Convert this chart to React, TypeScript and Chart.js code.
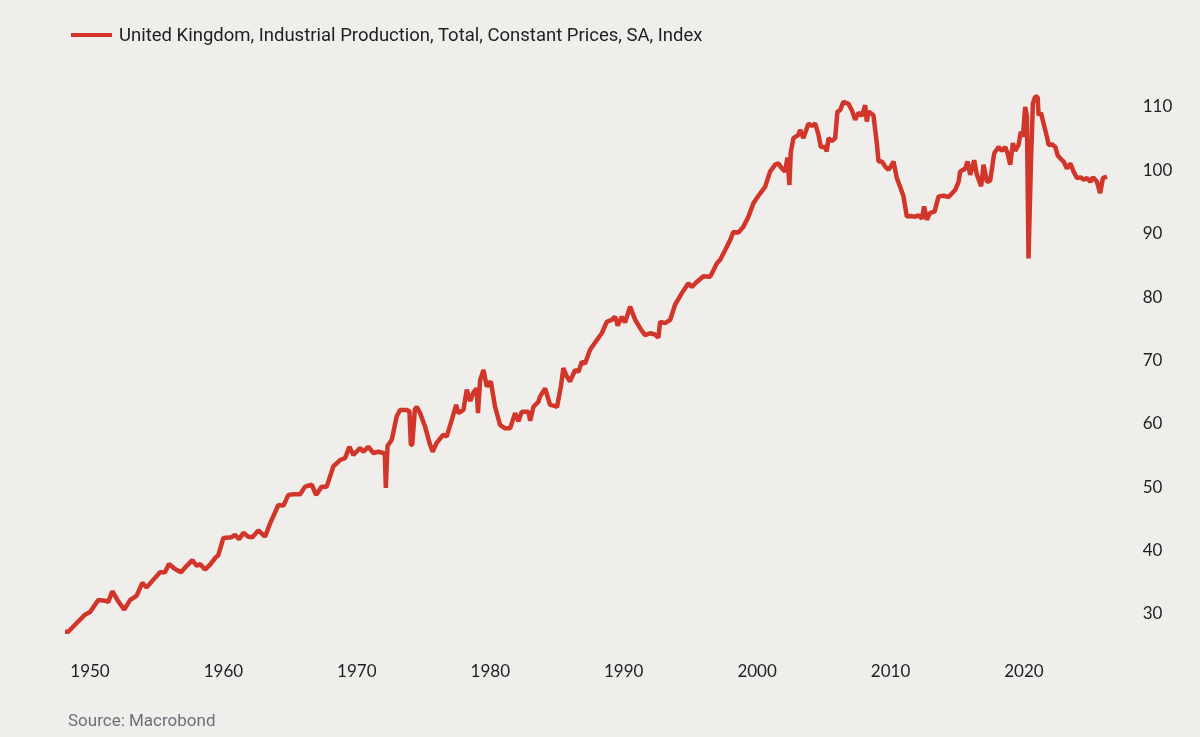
import React, { useEffect, useRef } from "react";
import { Chart, registerables } from "chart.js";

Chart.register(...registerables);

const seriesLabel = "United Kingdom, Industrial Production, Total, Constant Prices, SA, Index";
const sourceText = "Source: Macrobond";

const years = [
  1948.13, 1948.37, 1948.88, 1949.63, 1950.0, 1950.62, 1951.12, 1951.37, 1951.67, 1952.12,
  1952.57, 1953.0, 1953.5, 1953.92, 1954.25, 1954.87, 1955.25, 1955.62, 1955.92, 1956.37,
  1956.82, 1957.25, 1957.67, 1958.0, 1958.25, 1958.62, 1959.0, 1959.37, 1959.62, 1960.0,
  1960.62, 1960.87, 1961.17, 1961.5, 1961.87, 1962.17, 1962.62, 1963.12, 1963.5, 1964.12,
  1964.5, 1964.87, 1965.25, 1965.75, 1966.12, 1966.62, 1966.94, 1967.37, 1967.74, 1968.24,
  1968.74, 1969.12, 1969.44, 1969.74, 1970.24, 1970.49, 1970.86, 1971.24, 1971.61, 1971.99,
  1972.1, 1972.17, 1972.3, 1972.62, 1972.99, 1973.24, 1973.74, 1973.94, 1974.05, 1974.15,
  1974.35, 1974.49, 1974.74, 1975.11, 1975.49, 1975.68, 1975.98, 1976.48, 1976.73, 1977.11,
  1977.44, 1977.61, 1977.99, 1978.24, 1978.5, 1978.75, 1978.98, 1979.08, 1979.24, 1979.49,
  1979.74, 1980.04, 1980.36, 1980.74, 1981.11, 1981.49, 1981.86, 1982.11, 1982.36, 1982.86,
  1982.99, 1983.24, 1983.61, 1983.73, 1984.11, 1984.48, 1984.9, 1985.0, 1985.3, 1985.48,
  1985.73, 1985.98, 1986.36, 1986.61, 1986.86, 1987.1, 1987.48, 1987.98, 1988.36, 1988.73,
  1989.1, 1989.36, 1989.55, 1989.86, 1990.1, 1990.48, 1990.85, 1991.23, 1991.6, 1991.98,
  1992.35, 1992.6, 1992.73, 1993.1, 1993.48, 1993.85, 1994.35, 1994.85, 1995.1, 1995.48,
  1995.98, 1996.48, 1996.98, 1997.23, 1997.6, 1997.98, 1998.22, 1998.6, 1998.97, 1999.35,
  1999.72, 2000.1, 2000.6, 2000.97, 2001.35, 2001.6, 2001.85, 2002.1, 2002.27, 2002.42,
  2002.52, 2002.72, 2003.1, 2003.22, 2003.47, 2003.85, 2004.1, 2004.35, 2004.6, 2004.77,
  2005.1, 2005.22, 2005.35, 2005.6, 2005.85, 2006.02, 2006.22, 2006.47, 2006.85, 2007.1,
  2007.35, 2007.6, 2007.85, 2008.1, 2008.22, 2008.35, 2008.72, 2008.97, 2009.1, 2009.35,
  2009.6, 2009.85, 2010.1, 2010.22, 2010.47, 2010.72, 2010.97, 2011.22, 2011.47, 2011.85,
  2012.1, 2012.35, 2012.52, 2012.72, 2012.97, 2013.3, 2013.6, 2013.97, 2014.35, 2014.84,
  2015.1, 2015.22, 2015.6, 2015.77, 2015.97, 2016.27, 2016.47, 2016.79, 2016.97, 2017.22,
  2017.47, 2017.77, 2018.1, 2018.35, 2018.6, 2018.77, 2018.97, 2019.17, 2019.34, 2019.59,
  2019.77, 2019.92, 2020.09, 2020.22, 2020.34, 2020.52, 2020.67, 2020.84, 2021.02, 2021.1,
  2021.27, 2021.47, 2021.72, 2021.85, 2022.1, 2022.35, 2022.52, 2022.72, 2022.97, 2023.22,
  2023.47, 2023.72, 2023.97, 2024.27, 2024.47, 2024.72, 2024.97, 2025.17, 2025.47, 2025.71,
  2025.92, 2026.22,
];

const values = [
  27.2, 27.2, 28.3, 29.9, 30.3, 32.2, 32.1, 31.9, 33.6, 32.0,
  30.7, 32.2, 32.9, 34.9, 34.2, 35.7, 36.6, 36.6, 37.9, 37.1,
  36.6, 37.6, 38.5, 37.6, 37.9, 37.0, 37.8, 38.8, 39.3, 42.0,
  42.1, 42.5, 41.8, 42.8, 42.2, 42.1, 43.2, 42.2, 44.3, 47.2,
  47.1, 48.8, 48.9, 48.9, 50.1, 50.4, 48.8, 50.1, 50.1, 53.3,
  54.3, 54.6, 56.4, 55.1, 56.2, 55.6, 56.4, 55.4, 55.6, 55.4,
  55.2, 49.9, 56.5, 57.5, 61.2, 62.2, 62.2, 62.0, 56.7, 56.7,
  62.3, 62.7, 61.7, 59.6, 56.7, 55.6, 57.0, 58.3, 58.0, 60.6,
  63.0, 61.7, 62.2, 65.4, 63.6, 65.0, 65.6, 61.7, 66.9, 68.5,
  65.9, 66.7, 62.7, 59.8, 59.3, 59.3, 61.7, 60.4, 61.9, 61.9,
  60.5, 62.7, 63.5, 64.3, 65.6, 63.0, 62.8, 62.6, 66.0, 68.8,
  67.5, 66.7, 68.5, 68.2, 69.8, 69.5, 71.7, 73.2, 74.3, 76.1,
  76.4, 76.9, 75.5, 76.9, 76.0, 78.5, 76.5, 75.1, 74.0, 74.3,
  74.1, 73.6, 76.1, 75.9, 76.4, 78.8, 80.6, 82.2, 81.6, 82.4,
  83.3, 83.2, 85.3, 85.9, 87.4, 89.0, 90.3, 90.2, 91.1, 92.7,
  94.8, 96.0, 97.4, 99.8, 100.9, 101.1, 100.3, 99.8, 102.0, 97.7,
  102.8, 105.1, 105.6, 106.4, 105.1, 107.4, 107.0, 107.4, 105.6, 103.7,
  103.7, 103.0, 105.1, 104.6, 105.1, 109.3, 109.5, 110.8, 110.5, 109.5,
  108.0, 109.1, 108.6, 110.3, 107.7, 109.3, 108.7, 104.3, 101.4, 101.4,
  100.6, 100.1, 100.9, 101.4, 98.8, 97.4, 95.9, 92.7, 92.8, 92.7,
  92.9, 92.4, 94.3, 92.2, 93.3, 93.5, 95.9, 96.0, 95.8, 96.9,
  98.2, 99.8, 100.3, 101.4, 99.3, 101.6, 99.3, 97.5, 100.9, 98.2,
  98.4, 102.7, 103.7, 103.1, 103.7, 102.7, 100.9, 104.3, 103.1, 104.0,
  106.1, 105.3, 110.0, 108.5, 86.1, 101.1, 110.6, 111.6, 111.6, 108.7,
  109.1, 107.4, 105.3, 104.0, 104.1, 103.7, 102.4, 101.9, 101.4, 100.3,
  101.1, 99.8, 98.8, 98.9, 98.5, 98.8, 98.2, 98.9, 98.2, 96.4,
  98.8, 99.0,
];

const xTicks = [1950, 1960, 1970, 1980, 1990, 2000, 2010, 2020];
const yTicks = [30, 40, 50, 60, 70, 80, 90, 100, 110];

const BG = "#f0eeea";
const RED = "#d2352a";
const TEXT = "#1c1f23";
const MUTED = "#6c7079";

const W = 1200;
const H = 737;
const AREA_LEFT = 63.3;
const AREA_TOP = 88;
const AREA_RIGHT = 1110.7;
const AREA_BOTTOM = 645.7;

export default function App() {
  const ref = useRef<HTMLCanvasElement>(null);

  useEffect(() => {
    document.body.style.margin = "0";
    document.body.style.background = BG;
    const canvas = ref.current;
    if (!canvas) return;
    const tickFont = { family: "Lato, 'Noto Sans', sans-serif", size: 17 };
    const chart = new Chart(canvas, {
      type: "line",
      data: {
        datasets: [
          {
            label: seriesLabel,
            data: years.map((x, i) => ({ x, y: values[i] })),
            borderColor: RED,
            backgroundColor: RED,
            borderWidth: 4.5,
            pointRadius: 0,
            tension: 0,
            fill: false,
            borderJoinStyle: "bevel",
          },
        ],
      },
      options: {
        animation: false,
        responsive: false,
        maintainAspectRatio: false,
        layout: { padding: { left: AREA_LEFT, top: AREA_TOP, right: 0, bottom: 0 } },
        plugins: { legend: { display: false }, tooltip: { enabled: false } },
        scales: {
          x: {
            type: "linear",
            min: 1948,
            max: 2026.5,
            grid: { display: false, drawTicks: false },
            border: { display: false },
            afterBuildTicks: (s: any) => {
              s.ticks = xTicks.map((v) => ({ value: v }));
            },
            afterFit: (s: any) => {
              s.height = H - AREA_BOTTOM;
            },
            ticks: {
              padding: 16,
              font: tickFont,
              color: TEXT,
              maxRotation: 0,
              autoSkip: false,
              callback: (v: any) => String(v),
            },
          },
          y: {
            position: "right",
            min: 25,
            max: 113,
            grid: { display: false, drawTicks: false },
            border: { display: false },
            afterBuildTicks: (s: any) => {
              s.ticks = yTicks.map((v) => ({ value: v }));
            },
            afterFit: (s: any) => {
              s.width = W - AREA_RIGHT;
            },
            ticks: {
              padding: 32,
              font: tickFont,
              color: TEXT,
              autoSkip: false,
              callback: (v: any) => String(v),
            },
          },
        },
      },
    });
    return () => chart.destroy();
  }, []);

  return (
    <div style={{ position: "relative", width: W, height: H, background: BG, overflow: "hidden" }}>
      <canvas ref={ref} width={W} height={H} style={{ position: "absolute", left: 0, top: 0, width: W, height: H }} />
      <div
        style={{
          position: "absolute",
          left: 71,
          top: 23,
          height: 24,
          display: "flex",
          alignItems: "center",
          fontFamily: "Roboto, sans-serif",
          fontSize: 18.5,
          color: TEXT,
          whiteSpace: "nowrap",
        }}
      >
        <span style={{ display: "inline-block", width: 41, height: 4, background: RED, marginRight: 7 }} />
        <span>{seriesLabel}</span>
      </div>
      <div
        style={{
          position: "absolute",
          left: 68,
          top: 708,
          height: 24,
          lineHeight: "24px",
          fontFamily: "Roboto, sans-serif",
          fontSize: 17,
          color: MUTED,
          whiteSpace: "nowrap",
        }}
      >
        {sourceText}
      </div>
    </div>
  );
}
